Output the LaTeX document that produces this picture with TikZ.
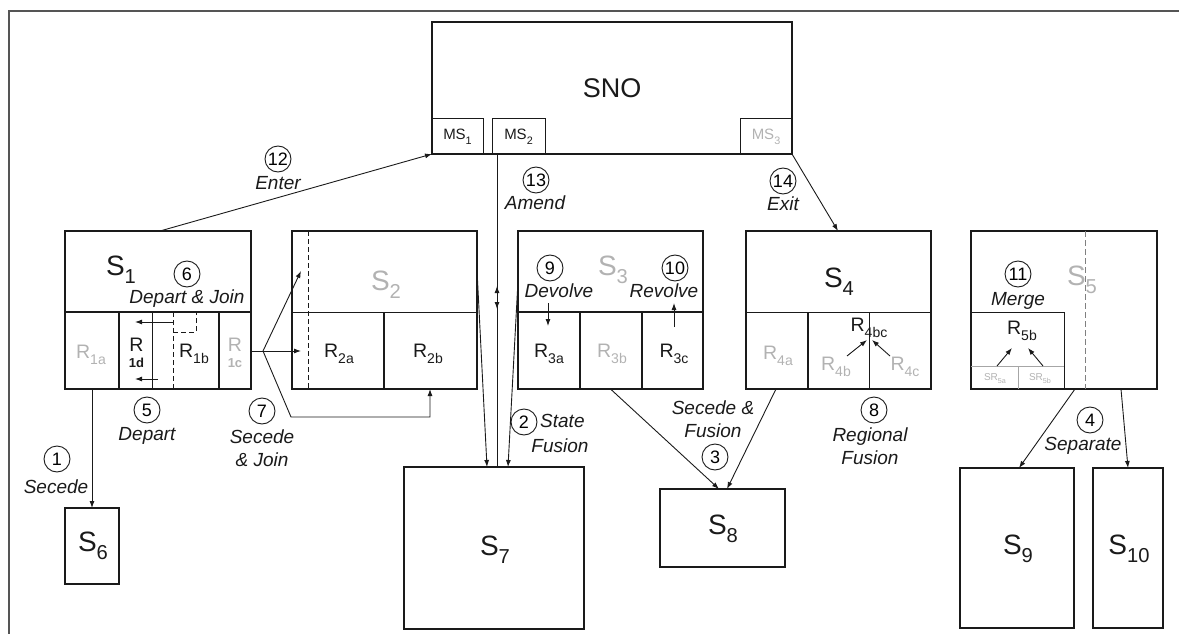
\documentclass[tikz,border=0pt]{standalone}
\usepackage{fontspec}
\usepackage{graphicx}
\setmainfont{Liberation Sans}
\usetikzlibrary{arrows.meta,calc}
\definecolor{ink}{HTML}{1A1A1A}
\definecolor{ghost}{HTML}{B2B2B2}
\definecolor{framec}{HTML}{555555}
\newcommand\lowsub[1]{\raisebox{-0.3em}{\scalebox{0.72}{#1}}}
\begin{document}
\begin{tikzpicture}[x=1pt,y=-1pt,
  sbox/.style={draw=ink,line width=1.6pt,inner sep=0pt,outer sep=0pt,anchor=north west,rectangle},
  div/.style={draw=ink,line width=1.1pt},
  thin/.style={draw=ink,line width=0.8pt},
  conn/.style={draw=ink,line width=0.9pt},
  arr/.style={conn,-{Latex[length=7pt,width=5pt]}},
  num/.style={circle,draw=ink,line width=0.9pt,minimum size=26pt,inner sep=0pt,font=\fontsize{18}{18}\selectfont},
  lab/.style={font=\fontsize{19}{23}\selectfont\itshape,inner sep=0pt,align=center,text=ink},
  big/.style={font=\fontsize{28}{28}\selectfont,inner sep=0pt,text=ink},
  reg/.style={font=\fontsize{19.5}{19.5}\selectfont,inner sep=0pt,text=ink},
  ms/.style={font=\fontsize{15}{15}\selectfont,inner sep=0pt,text=ink},
  tiny/.style={font=\fontsize{10}{10}\selectfont,inner sep=0pt,text=ghost},
  gray/.style={text=ghost}
  ]
\useasboundingbox (0,0) rectangle (1179,634);
% frame
\draw[line width=1.5pt,framec] (9,634) -- (9,11) -- (1179,11);

% ---------- boxes ----------
\node[sbox,minimum width=360pt,minimum height=132pt] (sno) at (432,22) {};
\node[sbox,line width=1pt,minimum width=51pt,minimum height=36pt] (ms1) at (432,118) {};
\node[sbox,line width=1pt,minimum width=53pt,minimum height=36pt] (ms2) at (492,118) {};
\node[sbox,line width=1pt,minimum width=52pt,minimum height=36pt] (ms3) at (740,118) {};
\node[sbox,minimum width=186pt,minimum height=158pt] (s1) at (65,231) {};
\node[sbox,minimum width=185pt,minimum height=158pt] (s2) at (292,231) {};
\node[sbox,minimum width=185pt,minimum height=158pt] (s3) at (518,231) {};
\node[sbox,minimum width=185pt,minimum height=158pt] (s4) at (746,231) {};
\node[sbox,minimum width=186pt,minimum height=158pt] (s5) at (971,231) {};
\node[sbox,minimum width=54pt,minimum height=76pt] (s6) at (65,508) {};
\node[sbox,minimum width=180pt,minimum height=162pt] (s7) at (404,467) {};
\node[sbox,minimum width=125pt,minimum height=78pt] (s8) at (660,489) {};
\node[sbox,minimum width=114pt,minimum height=160pt] (s9) at (960,468) {};
\node[sbox,minimum width=70pt,minimum height=160pt] (s10) at (1093,468) {};

% ---------- inner dividers ----------
% S1
\draw[div] (65,312) -- (251,312);
\draw[div] (119,312) -- (119,389);
\draw[thin] (152,312) -- (152,389);
\draw[div] (219,312) -- (219,389);
\draw[thin,dash pattern=on 5pt off 3pt] (173,312) -- (173,389);
\draw[thin,dash pattern=on 5pt off 3pt] (173,332) -- (196,332) -- (196,312);
% S2
\draw[div] (292,312.5) -- (477,312.5);
\draw[div] (384,312.5) -- (384,389);
\draw[thin,dash pattern=on 5pt off 3pt] (308,231) -- (308,389);
% S3
\draw[div] (518,312) -- (703,312);
\draw[div] (580,312) -- (580,389);
\draw[div] (642,312) -- (642,389);
% S4
\draw[div] (746,312.5) -- (931,312.5);
\draw[div] (808,312.5) -- (808,389);
\draw[thin] (869,312.5) -- (869,389);
% S5
\draw[thin,draw=gray,dash pattern=on 6pt off 3pt] (1085,231) -- (1085,389);
\draw[thin] (971,312.5) -- (1064,312.5) -- (1064,389);
\draw[thin,draw=gray!70] (971,366.7) -- (1064,366.7);
\draw[thin,draw=gray!70] (1018,366.7) -- (1018,389);

% ---------- box labels ----------
\node[big,font=\fontsize{27}{27}\selectfont] (tsno) at (612,88) {SNO};
\node[ms] (tms1) at (457.5,137) {MS\lowsub{1}};
\node[ms] (tms2) at (518.5,137) {MS\lowsub{2}};
\node[ms,gray] (tms3) at (766,137) {MS\lowsub{3}};
\node[big] (ts1) at (121,270) {S\lowsub{1}};
\node[big,gray] (ts2) at (386,285) {S\lowsub{2}};
\node[big,gray] (ts3) at (613,270) {S\lowsub{3}};
\node[big] (ts4) at (839,282) {S\lowsub{4}};
\node[big,gray] (ts5) at (1082,280) {S\lowsub{5}};
\node[big] (ts6) at (93,546) {S\lowsub{6}};
\node[big] (ts7) at (495,550) {S\lowsub{7}};
\node[big] (ts8) at (723,529) {S\lowsub{8}};
\node[big] (ts9) at (1018,549) {S\lowsub{9}};
\node[big] (ts10) at (1129,549) {S\lowsub{10}};

% region labels
\node[reg,gray] (r1a) at (91,355) {R\lowsub{1a}};
\node[reg] (r1dR) at (136.5,345) {R};
\node[font=\fontsize{13}{13}\selectfont\bfseries,inner sep=0pt,text=ink] (r1d) at (136.5,363) {1d};
\node[reg] (r1b) at (194,354) {R\lowsub{1b}};
\node[reg,gray] (r1cR) at (235,345) {R};
\node[font=\fontsize{13}{13}\selectfont\bfseries,inner sep=0pt,text=ghost] (r1c) at (235,363) {1c};
\node[reg] (r2a) at (339,354) {R\lowsub{2a}};
\node[reg] (r2b) at (428,354) {R\lowsub{2b}};
\node[reg] (r3a) at (549,354) {R\lowsub{3a}};
\node[reg,gray] (r3b) at (612,354) {R\lowsub{3b}};
\node[reg] (r3c) at (674,354) {R\lowsub{3c}};
\node[reg,gray] (r4a) at (778,356) {R\lowsub{4a}};
\node[reg,gray] (r4b) at (836,367) {R\lowsub{4b}};
\node[reg,gray] (r4c) at (905,367) {R\lowsub{4c}};
\node[reg] (r4bc) at (869,328) {R\lowsub{4bc}};
\node[reg] (r5b) at (1022,331) {R\lowsub{5b}};
\node[tiny] (sr5a) at (995,379) {SR\lowsub{5a}};
\node[tiny] (sr5b) at (1040,379) {SR\lowsub{5b}};

% ---------- numbered operation labels ----------
\node[num] (n1) at (57,459) {1};
\node[lab] (l1) at (56,487) {Secede};
\node[num] (n2) at (524,422) {2};
\node[lab,anchor=west] (l2a) at (540,421) {State};
\node[lab] (l2b) at (560,446) {Fusion};
\node[num] (n3) at (715,457) {3};
\node[lab] (l3) at (713,419.5) {Secede \&\\Fusion};
\node[num] (n4) at (1090,420) {4};
\node[lab] (l4) at (1083,446) {Separate};
\node[num] (n5) at (147,410) {5};
\node[lab] (l5) at (147,436) {Depart};
\node[num] (n6) at (187,274) {6};
\node[lab] (l6) at (187,299) {Depart \& Join};
\node[num] (n7) at (262,411) {7};
\node[lab] (l7) at (262,448) {Secede\\\& Join};
\node[num] (n8) at (874,410) {8};
\node[lab] (l8) at (870,446.5) {Regional\\Fusion};
\node[num] (n9) at (550,268) {9};
\node[lab] (l9) at (559,291) {Devolve};
\node[num] (n10) at (675,268) {10};
\node[lab] (l10) at (664,291) {Revolve};
\node[num] (n11) at (1018,274) {11};
\node[lab] (l11) at (1018,301) {Merge};
\node[num] (n12) at (278,159) {12};
\node[lab] (l12) at (278,183) {Enter};
\node[num] (n13) at (536,180) {13};
\node[lab] (l13) at (535,203) {Amend};
\node[num] (n14) at (783,181) {14};
\node[lab] (l14) at (783,204) {Exit};

% ---------- connectors ----------
% 12 Enter
\draw[arr] ([xshift=95pt]s1.north west) -- (sno.south west);
% 13 Amend
\draw[conn] ([xshift=5pt]ms2.south west) -- ([xshift=93pt]s7.north west);
\coordinate (am) at (497,297.5);
\coordinate (amU) at (497,286);
\coordinate (amD) at (497,309);
\draw[arr] (am) -- (amU);
\draw[arr] (am) -- (amD);
% 14 Exit
\draw[arr] (sno.south east) -- ([xshift=92pt]s4.north west);
% 2 State fusion
\draw[arr] ([yshift=-39pt]s2.north east) -- ([xshift=83pt]s7.north west);
\draw[arr] ([yshift=-50pt]s3.north west) -- ([xshift=104pt]s7.north west);
% 1 Secede
\draw[arr] ([xshift=27pt]s1.south west) -- (s6.north);
% 7 Secede & Join
\coordinate (br) at (263,351);
\coordinate (bk1) at (291,417);
\coordinate (bk2) at (430,417);
\draw[conn] ([yshift=-120pt]s1.north east) -- (br);
\draw[arr] (br) -- ([xshift=9pt,yshift=-40pt]s2.north west);
\draw[arr] (br) -- ([xshift=9pt,yshift=-120pt]s2.north west);
\draw[arr] (br) -- (bk1) -- (bk2) -- ([xshift=138pt]s2.south west);
% 3 Secede & Fusion
\draw[arr] (s3.south) -- ([xshift=59pt]s8.north west);
\draw[arr] ([xshift=30pt]s4.south west) -- ([xshift=67pt]s8.north west);
% 4 Separate
\draw[arr] ([xshift=104pt]s5.south west) -- ([xshift=59pt]s9.north west);
\draw[arr] ([xshift=150pt]s5.south west) -- ([xshift=35pt]s10.north west);
% 5 / 6 Depart
\coordinate (d6a) at (173,322);
\coordinate (d6b) at (135,322);
\coordinate (d5a) at (158,379);
\coordinate (d5b) at (135,379);
\draw[arr] (d6a) -- (d6b);
\draw[arr] (d5a) -- (d5b);
% 9 Devolve / 10 Revolve
\coordinate (dv1) at (548,303);
\coordinate (dv2) at (548,326);
\coordinate (rv1) at (674,327);
\coordinate (rv2) at (674,303);
\draw[arr] (dv1) -- (dv2);
\draw[arr] (rv1) -- (rv2);
% 8 Regional fusion
\coordinate (rf1) at (847,356);
\coordinate (rf2) at (867,340);
\coordinate (rf3) at (890,356);
\coordinate (rf4) at (872,340);
\draw[arr] (rf1) -- (rf2);
\draw[arr] (rf3) -- (rf4);
% 11 Merge
\coordinate (mg1) at (997,366);
\coordinate (mg2) at (1012,348);
\coordinate (mg3) at (1043,366);
\coordinate (mg4) at (1028,348);
\draw[arr] (mg1) -- (mg2);
\draw[arr] (mg3) -- (mg4);
\end{tikzpicture}
\end{document}
